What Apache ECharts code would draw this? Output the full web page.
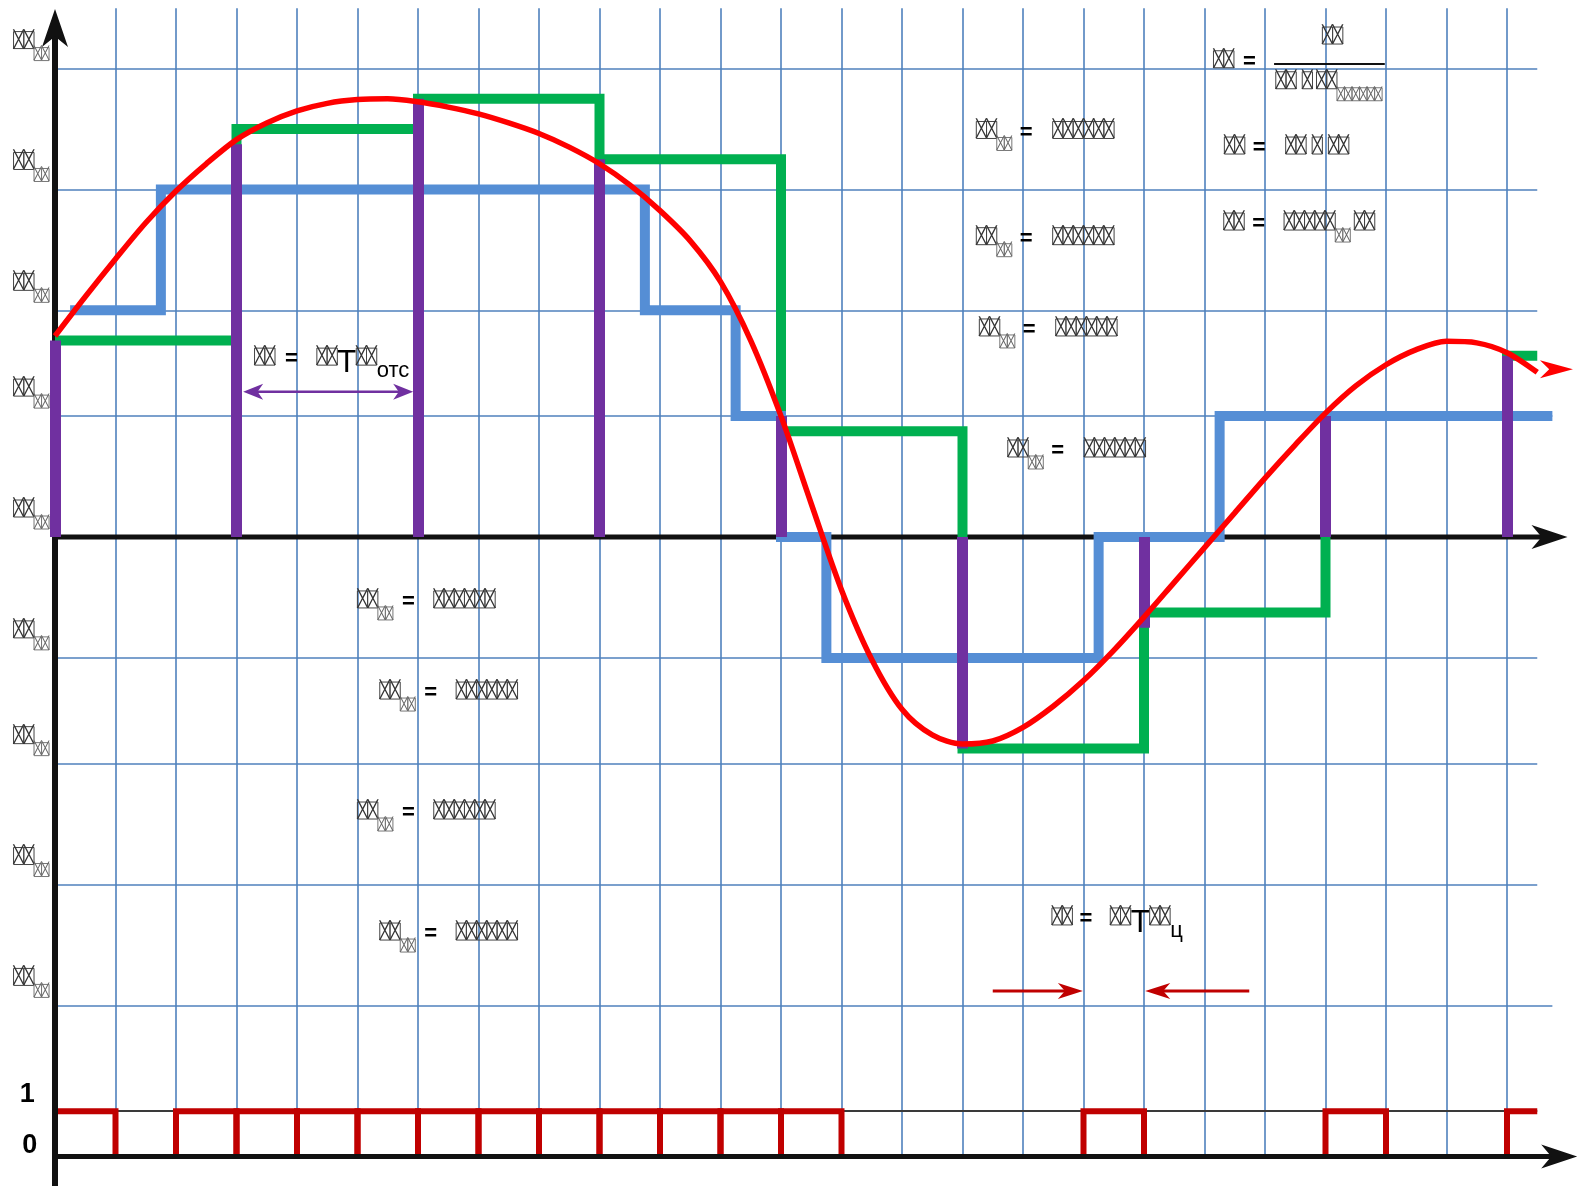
<!DOCTYPE html>
<html>
<head>
<meta charset="utf-8">
<script src="https://cdn.jsdelivr.net/npm/echarts@6/dist/echarts.min.js"></script>
<style>
  html, body { margin: 0; padding: 0; background: #ffffff; }
  #chart { width: 1580px; height: 1186px; }
</style>
</head>
<body>
<div id="chart"></div>
<script>
// ---- data (x in grid columns, y in quantisation sub-steps) ----
const gridColumns = [1, 2, 3, 4, 5, 6, 7, 8, 9, 10, 11, 12, 13, 14, 15, 16, 17, 18, 19, 20, 21, 22, 23, 24];
const levelLines = [31, 23, 15, 8, -8, -15, -23, -31];
const levelLineEnds = [24.5, 24.5, 24.5, 24.75, 24.5, 24.5, 24.5, 24.75];
const clockRail = -38;
const clockBase = -41;
const levelLabels = [31, 23, 15, 8, 0, -8, -15, -23, -31];

// analogue input signal
const signal = [
  [0, 13.3], [0.5, 15.9], [1, 18.4], [1.5, 20.8], [2, 22.9], [2.5, 24.7], [3, 26.3],
  [3.5, 27.4], [4, 28.2], [4.5, 28.7], [5, 28.95], [5.5, 29.0], [6, 28.8], [6.5, 28.45],
  [7, 28.0], [7.5, 27.4], [8, 26.7], [8.5, 25.8], [9, 24.7], [9.5, 23.3], [10, 21.6],
  [10.5, 19.6], [11, 16.9], [11.5, 13.0], [12, 8.0], [12.5, 2.2], [13, -3.5], [13.5, -8.1],
  [14, -11.4], [14.5, -13.1], [15, -13.7], [15.5, -13.5], [16, -12.6], [16.5, -11.2],
  [17, -9.5], [17.5, -7.5], [18, -5.3], [18.5, -3.0], [19, -0.7], [19.5, 1.6], [20, 3.9],
  [20.5, 6.1], [21, 8.2], [21.5, 10.0], [22, 11.4], [22.5, 12.4], [23, 12.95], [23.5, 12.85],
  [24, 12.2], [24.5, 10.9]
];

// quantised output (staircase corners)
const quantised = [
  [0.25, 15], [1.75, 15], [1.75, 23], [9.75, 23], [9.75, 15], [11.25, 15], [11.25, 8],
  [12, 8], [12, 0], [12.75, 0], [12.75, -8], [17.25, -8], [17.25, 0], [19.25, 0],
  [19.25, 8], [24.75, 8]
];

// sample-and-hold output (staircase corners)
const held = [
  [0, 13], [3, 13], [3, 27], [6, 27], [6, 29], [9, 29], [9, 25], [12, 25], [12, 7],
  [15, 7], [15, -14], [18, -14], [18, -5], [21, -5], [21, 8], [24, 8], [24, 12], [24.5, 12]
];

// sampling instants and sampled values
const sampleTimes = [0, 3, 6, 9, 12, 15, 18, 21, 24];
const sampleValues = [13, 26, 29, 25, 8, -14, -6, 8, 12];

// clock pulses (start, end); the train is cut at clockWindowEnd
const pulseStarts = [0, 2, 3, 4, 5, 6, 7, 8, 9, 10, 11, 12, 17, 21, 24];
const pulseEnds   = [1, 3, 4, 5, 6, 7, 8, 9, 10, 11, 12, 13, 18, 22, 24.5];
const clockWindowEnd = 24.5;

// axes with arrow heads: [x1, y1, x2(tip), y2(tip)]
const axisArrows = [[0, -43.5, 0, 34.94], [0, 0, 25.0, 0], [0, -41, 25.16, -41]];
const periodArrow = [[3.11, 9.62, 5.92, 9.62, 1]];
const cycleArrows = [[15.5, -30.05, 16.99, -30.05, 0], [19.74, -30.05, 18.02, -30.05, 0]];
const signalArrow = [[24.55, 11.1, 25.09, 11.1, 0]];
const fractionBar = [[20.15, 31.35], [21.98, 31.35]];

// text: tokens  A<n> box glyphs, a<n> small box glyphs, g<n> gap, '=' sign, 'T', _xxx subscript, #x bold digit
const notes = [
  { u: 15.22, v: 27.5,  t: ['A2', 'a2', 'g8', '=', 'g20', 'A6'] },
  { u: 15.22, v: 20.47, t: ['A2', 'a2', 'g8', '=', 'g20', 'A6'] },
  { u: 15.27, v: 14.43, t: ['A2', 'a2', 'g8', '=', 'g20', 'A6'] },
  { u: 15.74, v: 6.42,  t: ['A2', 'a2', 'g8', '=', 'g20', 'A6'] },
  { u: 4.99,  v: -3.57, t: ['A2', 'a2', 'g9', '=', 'g19', 'A6'] },
  { u: 5.36,  v: -9.6,  t: ['A2', 'a2', 'g9', '=', 'g19', 'A6'] },
  { u: 4.99,  v: -17.54, t: ['A2', 'a2', 'g9', '=', 'g19', 'A6'] },
  { u: 5.36,  v: -25.55, t: ['A2', 'a2', 'g9', '=', 'g19', 'A6'] },
  { u: 19.14, v: 32.18, t: ['A2', 'g9', '='] },
  { u: 20.94, v: 33.75, t: ['A2'] },
  { u: 20.17, v: 30.79, t: ['A2', 'g6', 'A1', 'g4', 'A2', 'a6'] },
  { u: 19.32, v: 26.47, t: ['A2', 'g8', '=', 'g20', 'A2', 'g6', 'A1', 'g6', 'A2'] },
  { u: 19.31, v: 21.44, t: ['A2', 'g8', '=', 'g19', 'A5', 'a2', 'g4', 'A2'] },
  { u: 3.29,  v: 12.5,  t: ['A2', 'g10', '=', 'g19', 'A2', 'T', 'A2', '_отс'] },
  { u: 16.47, v: -24.55, t: ['A2', 'g7', '=', 'g18', 'A2', 'T', 'A2', '_ц'] },
  { u: -0.59, v: -36.0, t: ['#1'] },
  { u: -0.55, v: -39.35, t: ['#0'] }
];

// ---- layout ----
const X0 = 55, XU = 60.5, Y0 = 537, YU = 15.11;
const X_MIN = -0.9, X_MAX = 25.2, Y_MIN = -42.9, Y_MAX = 35.5;

const RICH = {
  sp: { width: 0.5, lineHeight: 29, verticalAlign: 'top', fontSize: 10 },
  m: { fontFamily: 'DejaVu Sans Mono', fontSize: 17, lineHeight: 23, fill: '#333', borderColor: '#444', borderWidth: 1, verticalAlign: 'top' },
  s: { fontFamily: 'DejaVu Sans Mono', fontSize: 12.5, lineHeight: 16.5, fill: '#666', borderColor: '#777', borderWidth: 1, verticalAlign: 'bottom' },
  eq: { fontFamily: 'Liberation Sans', fontSize: 22, fontWeight: 'bold', lineHeight: 23, fill: '#000', verticalAlign: 'top' },
  tt: { fontFamily: 'Liberation Sans', fontSize: 31, lineHeight: 26, fill: '#000', verticalAlign: 'top' },
  sub: { fontFamily: 'Liberation Sans', fontSize: 22, lineHeight: 22, padding: [12, 0, 0, 0], fill: '#000', verticalAlign: 'top' },
  num: { fontFamily: 'Liberation Sans', fontSize: 27, fontWeight: 'bold', lineHeight: 30, fill: '#000', verticalAlign: 'top' }
};

function richText(tokens) {
  let out = '{sp| }';
  tokens.forEach(tk => {
    const c = tk[0];
    if (c === 'A' || c === 'a') {
      const n = parseInt(tk.slice(1), 10);
      for (let i = 0; i < n; i++) out += '{' + (c === 'A' ? 'm' : 's') + '|\u2573}';
    } else if (c === 'g') {
      const w = parseInt(tk.slice(1), 10);
      const key = 'g' + w;
      if (!RICH[key]) RICH[key] = { width: w, lineHeight: 10, fontSize: 10, verticalAlign: 'top' };
      out += '{' + key + '| }';
    } else if (tk === '=') {
      out += '{eq|=}';
    } else if (tk === 'T') {
      out += '{tt|T}';
    } else if (c === '_') {
      out += '{sub|' + tk.slice(1) + '}';
    } else if (c === '#') {
      out += '{num|' + tk.slice(1) + '}';
    }
  });
  return out;
}
const noteTexts = notes.map(n => richText(n.t));
const levelLabelText = richText(['A2', 'a2']);

// ---- series builders ----
function seg(a, b) { return { coords: [a, b] }; }

const gridSegs = [];
gridColumns.forEach(u => gridSegs.push(seg([u, clockBase], [u, 35])));
levelLines.forEach((v, i) => gridSegs.push(seg([0, v], [levelLineEnds[i], v])));

const pulseSegs = pulseStarts.map((s, i) => {
  const e = pulseEnds[i];
  const pts = [[s, clockBase], [s, clockRail], [e, clockRail]];
  if (e < clockWindowEnd) pts.push([e, clockBase]);
  return { coords: pts };
});

const sampleSegs = sampleTimes.map((u, i) => seg([u, 0], [u, sampleValues[i]]));

function linesSeries(name, data, color, width, z, polyline) {
  return {
    name, type: 'lines', coordinateSystem: 'cartesian2d', polyline: !!polyline,
    data, z, silent: true, clip: false, animation: false,
    lineStyle: { color, width, opacity: 1, cap: 'butt', join: 'miter', curveness: 0 },
    effect: { show: false }
  };
}

function arrowSeries(name, data, color, width, len, half, z) {
  return {
    name, type: 'custom', coordinateSystem: 'cartesian2d', z, silent: true, clip: false,
    animation: false, data,
    renderItem(params, api) {
      const p1 = api.coord([api.value(0), api.value(1)]);
      const p2 = api.coord([api.value(2), api.value(3)]);
      const both = api.value(4) === 1;
      const L = Math.hypot(p2[0] - p1[0], p2[1] - p1[1]);
      const dx = (p2[0] - p1[0]) / L, dy = (p2[1] - p1[1]) / L;
      const head = (tip, sx, sy) => {
        const bx = tip[0] - sx * len, by = tip[1] - sy * len;
        const nx = tip[0] - sx * len * 0.72, ny = tip[1] - sy * len * 0.72;
        return {
          type: 'polygon',
          shape: { points: [tip, [bx - sy * half, by + sx * half], [nx, ny], [bx + sy * half, by - sx * half]] },
          style: { fill: color }
        };
      };
      const a = both ? [p1[0] + dx * len * 0.6, p1[1] + dy * len * 0.6] : p1;
      const b = [p2[0] - dx * len * 0.6, p2[1] - dy * len * 0.6];
      const children = [];
      if (width > 0) {
        children.push({ type: 'line', shape: { x1: a[0], y1: a[1], x2: b[0], y2: b[1] }, style: { stroke: color, lineWidth: width } });
      }
      children.push(head(p2, dx, dy));
      if (both) children.push(head(p1, -dx, -dy));
      return { type: 'group', children };
    }
  };
}

const textSeries = {
  name: 'notes', type: 'custom', coordinateSystem: 'cartesian2d', z: 20, silent: true,
  clip: false, animation: false, data: notes.map(n => [n.u, n.v]),
  renderItem(params, api) {
    const p = api.coord([api.value(0), api.value(1)]);
    return { type: 'text', x: p[0], y: p[1], style: { text: noteTexts[params.dataIndex], rich: RICH, align: 'left', verticalAlign: 'top' } };
  }
};

const levelLabelSeries = {
  name: 'levels', type: 'custom', coordinateSystem: 'cartesian2d', z: 20, silent: true,
  clip: false, animation: false, data: levelLabels.map(v => [X_MIN, v]),
  renderItem(params, api) {
    const p = api.coord([api.value(0), api.value(1)]);
    return { type: 'text', x: p[0] + 12.5, y: p[1] - 37, style: { text: levelLabelText, rich: RICH, align: 'left', verticalAlign: 'top' } };
  }
};

const chart = echarts.init(document.getElementById('chart'), null, { renderer: 'canvas' });
chart.setOption({
  backgroundColor: '#ffffff',
  animation: false,
  grid: {
    left: X0 + X_MIN * XU,
    top: Y0 - Y_MAX * YU,
    width: (X_MAX - X_MIN) * XU,
    height: (Y_MAX - Y_MIN) * YU
  },
  xAxis: { type: 'value', min: X_MIN, max: X_MAX, show: false },
  yAxis: { type: 'value', min: Y_MIN, max: Y_MAX, show: false },
  series: [
    linesSeries('grid', gridSegs, '#4F81BD', 1.6, 1, false),
    linesSeries('clock rail', [seg([0, clockRail], [clockWindowEnd, clockRail])], '#3a3a3a', 1.8, 1, false),
    linesSeries('clock', pulseSegs, '#C00000', 6, 2, true),
    arrowSeries('axes', [axisArrows[0]], '#111111', 6, 38, 13, 3),
    arrowSeries('axes x', axisArrows.slice(1), '#111111', 5, 36, 12, 3),
    linesSeries('held', [{ coords: held }], '#00B050', 10, 4, true),
    linesSeries('quantised', [{ coords: quantised }], '#558ED5', 10, 5, true),
    linesSeries('samples', sampleSegs, '#7030A0', 11, 6, false),
    {
      name: 'signal', type: 'line', data: signal, smooth: 0.3, showSymbol: false, symbol: 'none',
      clip: false, z: 7, silent: true, animation: false,
      lineStyle: { color: '#FF0000', width: 5.5 }
    },
    arrowSeries('signal end', signalArrow, '#FF0000', 0, 33, 9, 7),
    linesSeries('fraction', [seg(fractionBar[0], fractionBar[1])], '#111111', 2, 8, false),
    arrowSeries('period', periodArrow, '#7030A0', 2.5, 20, 8, 8),
    arrowSeries('cycle', cycleArrows, '#C00000', 3, 25, 8, 8),
    levelLabelSeries,
    textSeries
  ]
});
</script>
</body>
</html>
